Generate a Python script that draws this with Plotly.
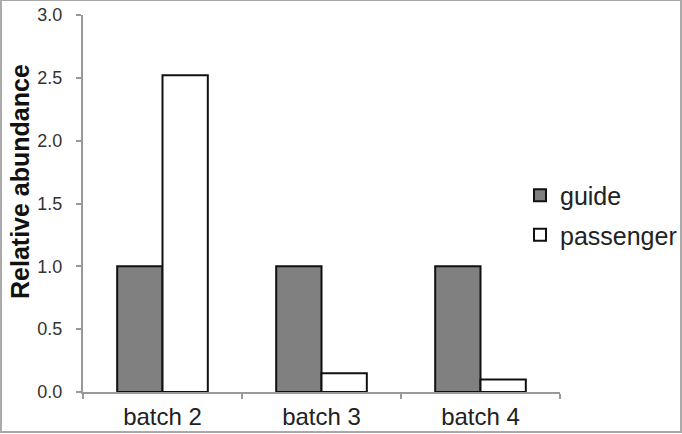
import plotly.graph_objects as go

categories = ["batch 2", "batch 3", "batch 4"]
guide = [1.0, 1.0, 1.0]
passenger = [2.52, 0.15, 0.10]
y_ticks = [0, 0.5, 1.0, 1.5, 2.0, 2.5, 3.0]
y_tick_text = ["0.0", "0.5", "1.0", "1.5", "2.0", "2.5", "3.0"]

fig = go.Figure()
fig.add_trace(go.Bar(x=categories, y=guide, name="guide", legendgroup="g",
                     marker=dict(color="#808080", line=dict(color="#111111", width=2))))
fig.add_trace(go.Bar(x=categories, y=passenger, name="passenger", legendgroup="p",
                     marker=dict(color="#ffffff", line=dict(color="#111111", width=2))))

L, T, W, H = 83, 15, 477, 377
fig.update_layout(
    width=682, height=434,
    margin=dict(l=L, r=682 - L - W, t=T, b=434 - T - H, autoexpand=False),
    paper_bgcolor="white", plot_bgcolor="white",
    font=dict(family="Liberation Sans, Arial, sans-serif", color="#222222"),
    barmode="group", bargap=0.43, bargroupgap=0,
    showlegend=True,
    legend=dict(x=(520 - L) / W, y=(T + H - 215) / H, xanchor="left", yanchor="middle",
                font=dict(size=25, color="#222222"), tracegroupgap=4,
                traceorder="grouped", bgcolor="rgba(0,0,0,0)"),
    xaxis=dict(type="category", showline=True, linecolor="#999999", linewidth=2,
               ticks="outside", tickson="boundaries", ticklen=5, tickcolor="#999999",
               tickwidth=2, tickfont=dict(size=24, color="#222222"), showgrid=False,
               ticklabelstandoff=2, automargin=False),
    yaxis=dict(range=[0, 3.0], tickvals=y_ticks, ticktext=y_tick_text,
               showline=True, linecolor="#999999", linewidth=2,
               ticks="outside", ticklen=5, tickcolor="#999999", tickwidth=2,
               tickfont=dict(size=18, color="#333333"), showgrid=False, zeroline=False,
               ticklabelstandoff=10, automargin=False),
)

fig.add_annotation(text="<b>Relative abundance</b>", textangle=-90, showarrow=False,
                   xref="paper", yref="paper",
                   x=(20 - L) / W, y=(T + H - 182) / H, xanchor="center", yanchor="middle",
                   font=dict(size=25, color="#111111"))

fig.add_shape(type="rect", xref="paper", yref="paper",
              x0=(1 - L) / W, x1=(681 - L) / W,
              y0=(T + H - 432) / H, y1=(T + H - 0) / H,
              line=dict(color="#aaaaaa", width=2), fillcolor="rgba(0,0,0,0)", layer="below")

post = ("document.documentElement.style.margin='0';"
        "document.documentElement.style.overflow='hidden';"
        "document.body.style.margin='0';document.body.style.padding='0';"
        "document.body.style.overflow='hidden';")
fig.write_html("out.html", post_script=post, config={"displayModeBar": False})
